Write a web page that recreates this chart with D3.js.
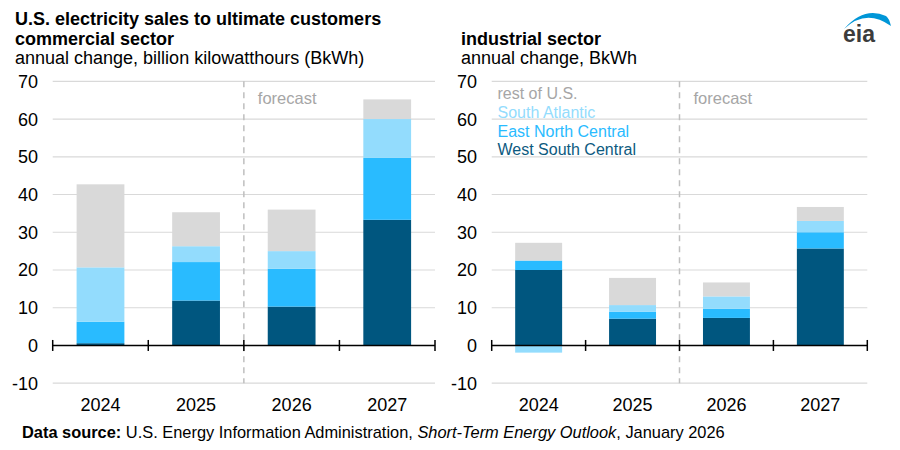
<!DOCTYPE html>
<html>
<head>
<meta charset="utf-8">
<script src="https://cdn.jsdelivr.net/npm/d3@7"></script>
<style>
  body { margin: 0; background: #fff; }
  svg { font-family: "Liberation Sans", Arial, sans-serif; }
</style>
</head>
<body>
<svg id="chart" width="900" height="450"></svg>
<script>
// data (BkWh, annual change)
let years = ["2024", "2025", "2026", "2027"];
let regions = ["West South Central", "East North Central", "South Atlantic", "rest of U.S."];
let commercialWSC = [0.6, 11.9, 10.3, 33.3];
let commercialENC = [5.7, 10.2, 10.0, 16.4];
let commercialSA = [14.4, 4.2, 4.7, 10.3];
let commercialRest = [22.0, 9.0, 11.0, 5.2];
let industrialWSC = [20.0, 7.1, 7.3, 25.7];
let industrialENC = [2.5, 1.8, 2.4, 4.3];
let industrialSA = [-1.9, 1.8, 3.3, 3.0];
let industrialRest = [4.7, 7.2, 3.7, 3.7];
let yTicks = [-10, 0, 10, 20, 30, 40, 50, 60, 70];

let colors = {
  "West South Central": "#00567f",
  "East North Central": "#29bbff",
  "South Atlantic": "#93dcfd",
  "rest of U.S.": "#d9d9d9"
};

function rows(wsc, enc, sa, rest) {
  return years.map(function(yr, i) {
    return {year: yr, "West South Central": wsc[i], "East North Central": enc[i],
            "South Atlantic": sa[i], "rest of U.S.": rest[i]};
  });
}

let svg = d3.select("#chart");

let y = d3.scaleLinear().domain([-10, 70]).range([383.2, 81.3]);

let stack = d3.stack().keys(regions).offset(d3.stackOffsetDiverging);

function panel(data, x0, x1, labelX) {
  let x = d3.scaleBand().domain(years).range([x0, x1])
    .paddingInner(0.5).paddingOuter(0.25);
  let g = svg.append("g");

  // gridlines
  g.selectAll("line.grid")
    .data(yTicks.filter(function(t) { return t != 0; }))
    .enter().append("line")
      .attr("x1", x0).attr("x2", x1)
      .attr("y1", function(d) { return y(d); })
      .attr("y2", function(d) { return y(d); })
      .attr("stroke", "#d9d9d9").attr("stroke-width", 1.2);

  // y labels
  g.selectAll("text.ylab")
    .data(yTicks)
    .enter().append("text")
      .attr("x", labelX)
      .attr("y", function(d) { return y(d) + 6.5; })
      .attr("text-anchor", "end")
      .attr("font-size", 18)
      .attr("fill", "#000")
      .text(function(d) { return d; });

  // forecast divider
  let step = x.step();
  let edge = function(i) { return x0 + i * step; };
  g.append("line")
    .attr("x1", edge(2)).attr("x2", edge(2))
    .attr("y1", y(70)).attr("y2", y(-10))
    .attr("stroke", "#bfbfbf").attr("stroke-width", 1.5)
    .attr("stroke-dasharray", "6,5");

  // bars
  let series = stack(data);
  g.selectAll("g.series")
    .data(series)
    .enter().append("g")
      .attr("fill", function(d) { return colors[d.key]; })
    .selectAll("rect")
    .data(function(d) { return d; })
    .enter().append("rect")
      .attr("x", function(d) { return x(d.data.year); })
      .attr("width", x.bandwidth())
      .attr("y", function(d) { return y(Math.max(d[0], d[1])); })
      .attr("height", function(d) { return Math.abs(y(d[0]) - y(d[1])); });

  // zero axis
  g.append("line")
    .attr("x1", x0).attr("x2", x1)
    .attr("y1", y(0)).attr("y2", y(0))
    .attr("stroke", "#000").attr("stroke-width", 1.5);
  g.selectAll("line.tick")
    .data(d3.range(years.length + 1))
    .enter().append("line")
      .attr("x1", function(i) { return edge(i); })
      .attr("x2", function(i) { return edge(i); })
      .attr("y1", y(0) - 5.5).attr("y2", y(0) + 5.5)
      .attr("stroke", "#000").attr("stroke-width", 1.5);

  // x labels
  g.selectAll("text.xlab")
    .data(years)
    .enter().append("text")
      .attr("x", function(d) { return x(d) + x.bandwidth() / 2; })
      .attr("y", 411)
      .attr("text-anchor", "middle")
      .attr("font-size", 18)
      .text(function(d) { return d; });

  g.append("text")
    .attr("x", edge(2) + 14).attr("y", 104)
    .attr("font-size", 16.5).attr("fill", "#a6a6a6")
    .text("forecast");

  return x;
}

panel(rows(commercialWSC, commercialENC, commercialSA, commercialRest), 52.7, 435, 38);
panel(rows(industrialWSC, industrialENC, industrialSA, industrialRest), 491.7, 867.3, 477);

// titles
svg.append("text").attr("x", 15).attr("y", 25)
  .attr("font-size", 18).attr("font-weight", "bold")
  .text("U.S. electricity sales to ultimate customers");
svg.append("text").attr("x", 15).attr("y", 45)
  .attr("font-size", 18).attr("font-weight", "bold")
  .text("commercial sector");
svg.append("text").attr("x", 15).attr("y", 64)
  .attr("font-size", 18)
  .text("annual change, billion kilowatthours (BkWh)");
svg.append("text").attr("x", 461).attr("y", 45)
  .attr("font-size", 18).attr("font-weight", "bold")
  .text("industrial sector");
svg.append("text").attr("x", 461).attr("y", 64)
  .attr("font-size", 18)
  .text("annual change, BkWh");

// legend (top to bottom, reverse of stack)
let legendColors = {
  "rest of U.S.": "#a6a6a6",
  "South Atlantic": "#93dcfd",
  "East North Central": "#29bbff",
  "West South Central": "#0d5a80"
};
svg.selectAll("text.legend")
  .data(regions.slice().reverse())
  .enter().append("text")
    .attr("x", 497.5)
    .attr("y", function(d, i) { return 99 + i * 18.8; })
    .attr("font-size", 16)
    .attr("fill", function(d) { return legendColors[d]; })
    .text(function(d) { return d; });

// source
let src = svg.append("text").attr("x", 22).attr("y", 438).attr("font-size", 16.4);
src.append("tspan").attr("font-weight", "bold").text("Data source: ");
src.append("tspan").text("U.S. Energy Information Administration, ");
src.append("tspan").attr("font-style", "italic").text("Short-Term Energy Outlook");
src.append("tspan").text(", January 2026");

// eia logo
svg.append("path")
  .attr("d", "M844,29 Q866,8 891,26 Q889,18 886,16 Q864,6 844,29 Z")
  .attr("fill", "#0096d7");
svg.append("text").attr("x", 843).attr("y", 42)
  .attr("font-size", 23).attr("fill", "#3c3c3c")
  .attr("font-family", "Liberation Sans").attr("font-weight", "bold")
  .text("eia");
</script>
</body>
</html>
